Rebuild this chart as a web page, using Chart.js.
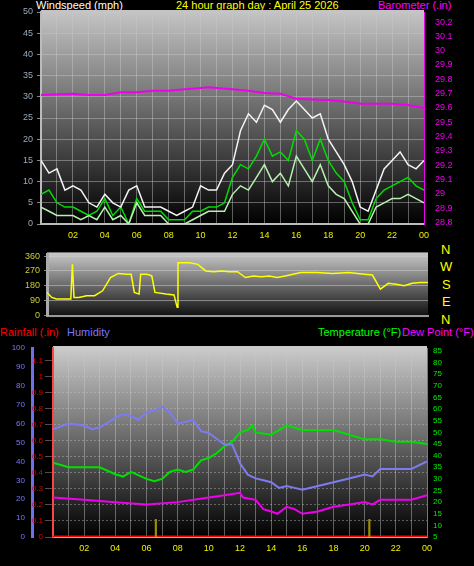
<!DOCTYPE html>
<html><head><meta charset="utf-8">
<script src="https://cdn.jsdelivr.net/npm/chart.js@4"></script>
<style>
body{margin:0;background:#000;width:474px;height:566px;overflow:hidden;position:relative;font-family:"Liberation Sans",Arial,sans-serif}
canvas{position:absolute;left:0}
.t{position:absolute;font-size:11px;white-space:nowrap;line-height:11px}
</style></head><body>
<div class="t" style="left:36px;top:0;color:#fff">Windspeed (mph)</div>
<div class="t" style="left:176px;top:0;color:#ff0">24 hour graph day : April 25 2026</div>
<div class="t" style="left:378px;top:0;color:#f0f">Barometer (.in)</div>
<div class="t" style="left:0;top:327px;color:#f00">Rainfall (.in)</div>
<div class="t" style="left:67px;top:327px;color:#77f">Humidity</div>
<div class="t" style="left:318px;top:327px;color:#0f0">Temperature (°F)</div>
<div class="t" style="left:402px;top:327px;color:#f0f">Dew Point (°F)</div>
<div class="t" style="left:441px;top:243px;color:#ff0;font-size:13px;line-height:13px">N</div>
<div class="t" style="left:440px;top:260px;color:#ff0;font-size:13px;line-height:13px">W</div>
<div class="t" style="left:442px;top:278px;color:#ff0;font-size:13px;line-height:13px">S</div>
<div class="t" style="left:442px;top:295px;color:#ff0;font-size:13px;line-height:13px">E</div>
<div class="t" style="left:441px;top:313px;color:#ff0;font-size:13px;line-height:13px">N</div>
<canvas id="c1" width="474" height="250" style="top:0"></canvas>
<canvas id="c2" width="474" height="80" style="top:245px"></canvas>
<canvas id="c3" width="474" height="236" style="top:330px"></canvas>
<script>
const hours = [0,0.5,1,1.5,2,2.5,3,3.5,4,4.5,5,5.5,6,6.5,7,7.5,8,8.5,9,9.5,10,10.5,11,11.5,12,12.5,13,13.5,14,14.5,15,15.5,16,16.5,17,17.5,18,18.5,19,19.5,20,20.5,21,21.5,22,22.5,23,23.5,24];
const gust =  [15,12,13,8,9,8,5,4,7,5,4,8,9,4,4,4,3,2,3,4,9,8,8,12,14,22,26,24,28,27,24,27,29,27,25,26,20,17,14,10,4,3,8,13,15,17,14,13,15];
const wind =  [4,3,2,2,2,1,2,1,4,1,2,0,5,2,2,2,0,0,0,1,2,3,3,3,7,9,8,11,14,10,12,9,16,13,10,14,9,7,6,3,0,0,4,5,6,6,7,6,5];
const avg10 = [7,8,5,4,4,3,2,3,6,2,4,0,6,3,3,3,1,1,1,3,3,4,4,5,11,14,13,16,20,16,17,15,22,20,15,20,15,12,10,5,1,1,6,8,9,10,11,9,8];
const baroHours = [0,2,3,4,5,6,7,8,9,10,10.5,11,12,13,14,15,16,17,18,19,20,21,22,23,24];
const baro = [29.69,29.70,29.69,29.69,29.71,29.71,29.72,29.72,29.73,29.74,29.745,29.74,29.73,29.72,29.705,29.70,29.665,29.66,29.655,29.645,29.63,29.63,29.63,29.62,29.60];
const dirHours = [0,0.3,0.6,1,1.5,1.6,1.7,2,2.5,3,3.5,4,4.5,5,5.3,5.5,5.8,5.9,6.3,6.6,6.8,7.5,8,8.2,8.25,8.5,9,9.5,10,10.5,11,11.5,12,12.5,13,13.5,14,14.5,15,15.5,16,17,18,19,20,20.5,21,21.5,22,22.5,23,23.5,24];
const dir = [140,110,100,100,100,310,110,110,120,120,150,230,255,250,250,140,130,250,250,240,140,130,125,50,320,320,320,310,270,265,270,265,265,230,240,235,240,230,240,250,260,260,255,260,250,245,160,195,190,180,195,200,200];
const humHours = [0,1,2,2.5,3,4,4.5,5,5.5,6,6.5,7,7.5,8,8.5,9,9.5,10,10.5,11,11.5,11.8,12,12.5,13,13.5,14,14.5,15,15.5,16,17,18,19,20,20.5,21,22,23,24];
const humidity = [57,60,59,57,58,63,65,64,62,66,67,69,66,60,61,62,56,55,52,49,49,43,39,33,31,30,29,26,27,26,25,27,29,31,33,32,36,36,36,40];
const tempHours = [0,1,2,3,4,4.5,5,6,6.5,7,7.5,8,8.5,9,9.5,10,10.5,11,11.5,12,12.5,12.8,13,14,14.5,15,15.5,16,17,18,19,20,21,22,23,24];
const temperature = [37,35,35,35,32,31,33,30,29,30,33,34,33,34,38,39,41,44,46,50,51,53,50,49,51,53,52,51,51,51,49,47,47,46,46,45];
const dewHours = [0,2,4,6,8,10,11,12,12.2,13,13.5,14,14.4,15,15.5,16,17,18,19,20,20.5,21,22,23,24];
const dewpoint = [22,21,20,19,20,22,23,24,22,21,17,16,15,18,17,15,16,18,19,20,19,21,21,21,23];
const rainHours = [0,24];
const rainfall = [0,0];
const markHours = [6.6,20.3];
const markVals = [0.11,0.11];
const hourTicks = ['02','04','06','08','10','12','14','16','18','20','22','00'];

const pts=(xs,ys)=>xs.map((x,i)=>({x,y:ys[i]}));
const font={family:'Liberation Sans',size:9};
const sfont={family:'Liberation Sans',size:8};
function bgPlugin(top,bot){return{id:'bg',beforeDraw(c){const a=c.chartArea,g=c.ctx.createLinearGradient(0,a.top,0,a.bottom);g.addColorStop(0,top);g.addColorStop(1,bot);c.ctx.fillStyle=g;c.ctx.fillRect(a.left,a.top-2,a.right-a.left,a.bottom-a.top+4);}}}
function fixW(w){return s=>{s.width=w;}}
function xAxis(show){return{type:'linear',offset:false,min:0,max:24,afterBuildTicks:s=>{s.ticks=[];for(let h=1;h<=24;h++)s.ticks.push({value:h});},
 grid:{color:'rgba(200,200,200,0.45)',borderDash:[1,1],drawTicks:false,offset:false},border:{display:true,color:'#bbb',width:2},
 ticks:{display:show,color:'#ee0',font,padding:6,autoSkip:false,maxRotation:0,callback:v=>v%2===0?hourTicks[v/2-1]:''}};}
const common={responsive:false,animation:false,plugins:{legend:{display:false},tooltip:{enabled:false}},elements:{point:{radius:0}}};

new Chart(document.getElementById('c1'),{type:'line',data:{datasets:[
 {data:pts(hours,gust),borderColor:'#f4f4f4',borderWidth:1.5,yAxisID:'y'},
 {data:pts(hours,wind),borderColor:'#b8f0b0',borderWidth:1.5,yAxisID:'y'},
 {data:pts(hours,avg10),borderColor:'#00dd00',borderWidth:1.5,yAxisID:'y'},
 {data:pts(baroHours,baro),borderColor:'#ee00ee',borderWidth:2,yAxisID:'y2'}]},
 options:{...common,layout:{padding:{top:12,bottom:0}},scales:{x:{...xAxis(true),afterFit:s=>{s.height=26;}},
 y:{position:'left',min:0,max:50,afterFit:fixW(41),ticks:{stepSize:5,color:'#9ab',font,padding:4},grid:{color:'rgba(200,200,200,0.45)',borderDash:[1,1],tickLength:4,tickColor:'#888'},border:{color:'#bbb',width:2}},
 y2:{position:'right',min:28.79,max:30.27,afterBuildTicks:s=>{s.ticks=[];for(let i=0;i<=14;i++)s.ticks.push({value:+(28.8+i*0.1).toFixed(1)});},afterFit:fixW(50),ticks:{color:'#e0e',font,padding:3,autoSkip:false,callback:v=>(+v.toFixed(1)).toString()},grid:{display:false},border:{color:'#e0e',width:1,dash:[2,2]}}}},
 plugins:[bgPlugin('#c4c4c4','#000')]});

new Chart(document.getElementById('c2'),{type:'line',data:{datasets:[
 {data:pts(dirHours,dir),borderColor:'#ffff00',borderWidth:1.5}]},
 options:{...common,layout:{padding:{top:6,bottom:5,right:46}},scales:{x:{...xAxis(false),grid:{display:false},border:{color:'#999',width:2},afterFit:s=>{s.height=0;}},
 y:{position:'left',min:0,max:370,afterBuildTicks:s=>{s.ticks=[0,90,180,270,360].map(v=>({value:v}));},afterFit:fixW(47),ticks:{color:'#cc3',font,padding:4},grid:{color:'rgba(210,210,210,0.5)',tickLength:3,tickColor:'#888'},border:{color:'#aaa',width:3}}}},
 plugins:[bgPlugin('#c4c4c4','#111')]});

new Chart(document.getElementById('c3'),{data:{datasets:[
 {type:'line',data:pts(humHours,humidity),borderColor:'#7c7cf0',borderWidth:2,yAxisID:'yh'},
 {type:'line',data:pts(tempHours,temperature),borderColor:'#00e000',borderWidth:2,yAxisID:'yt'},
 {type:'line',data:pts(dewHours,dewpoint),borderColor:'#ee00ee',borderWidth:2,yAxisID:'yt'},
 {type:'bar',data:pts(markHours,markVals),backgroundColor:'#a09000',barThickness:1.5,yAxisID:'yr'},
 {type:'line',data:pts(rainHours,rainfall),borderColor:'#ff0000',borderWidth:3,yAxisID:'yr'}]},
 options:{...common,layout:{padding:{top:18,right:0}},scales:{x:{...xAxis(true),afterFit:s=>{s.height=29;}},
 yh:{position:'left',weight:2,min:0,max:100,afterFit:fixW(32),ticks:{stepSize:10,autoSkip:false,color:'#77f',font:sfont,padding:3},grid:{display:false,tickLength:4},border:{color:'#7070ee',width:3}},
 yr:{position:'left',weight:1,min:0,max:1.18,afterBuildTicks:s=>{s.ticks=[];for(let i=0;i<=11;i++)s.ticks.push({value:+(i*0.1).toFixed(1)});},afterFit:fixW(21),ticks:{autoSkip:false,color:'#d00',font:sfont,padding:2,callback:v=>(+v.toFixed(1)).toString()},grid:{color:'rgba(200,200,200,0.4)',borderDash:[1,1]},border:{color:'#f44',width:2,dash:[2,2]}},
 yt:{position:'right',min:5,max:86.3,afterBuildTicks:s=>{s.ticks=[];for(let v=5;v<=85;v+=5)s.ticks.push({value:v});},afterFit:fixW(47),ticks:{autoSkip:false,color:'#0e0',font:sfont,padding:3},grid:{display:false,tickLength:3,tickColor:'#0c0'},border:{color:'#0c0',width:1,dash:[2,2]}}}},
 plugins:[bgPlugin('#cacaca','#000')]});
</script></body></html>
